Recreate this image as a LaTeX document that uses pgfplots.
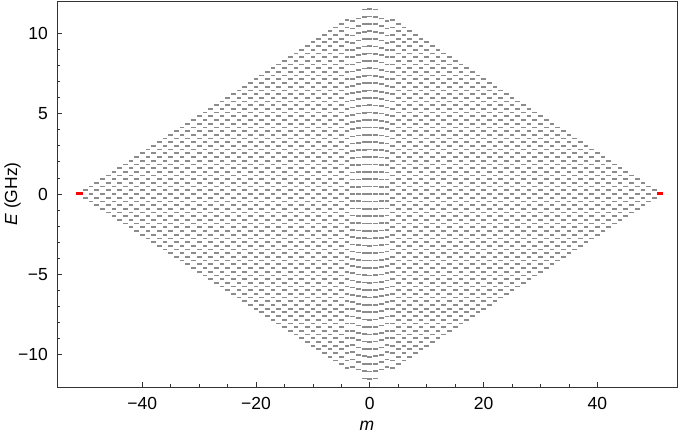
\documentclass[border=0pt]{standalone}
\usepackage{fontspec}
\setmainfont{Liberation Sans}
\usepackage{pgfplots}
\usepackage{pgfplotstable}
\pgfplotsset{compat=1.18}
% m positions of the levels away from the centre (|m|>=4)
\pgfplotstableread[header=false,row sep=\\]{-49\\-47\\-45\\-43\\-41\\-39\\-37\\-35\\-33\\-31\\-29\\-27\\-25\\-23\\-21\\-19\\-17\\-15\\-13\\-11\\-9\\-7\\-5\\5\\7\\9\\11\\13\\15\\17\\19\\21\\23\\25\\27\\29\\31\\33\\35\\37\\39\\41\\43\\45\\47\\49\\}\Modd
\pgfplotstableread[header=false,row sep=\\]{-50\\-48\\-46\\-44\\-42\\-40\\-38\\-36\\-34\\-32\\-30\\-28\\-26\\-24\\-22\\-20\\-18\\-16\\-14\\-12\\-10\\-8\\-6\\-4\\4\\6\\8\\10\\12\\14\\16\\18\\20\\22\\24\\26\\28\\30\\32\\34\\36\\38\\40\\42\\44\\46\\48\\50\\}\Meven
% energies (GHz) of the centre columns
\pgfplotstableread[header=false,row sep=\\]{-11.50\\-11.04\\-10.58\\-10.12\\-9.66\\-9.20\\-8.74\\-8.28\\-7.82\\-7.36\\-6.90\\-6.44\\-5.98\\-5.52\\-5.06\\-4.60\\-4.14\\-3.68\\-3.22\\-2.76\\-2.30\\-1.84\\-1.38\\-0.92\\-0.46\\0\\0.46\\0.92\\1.38\\1.84\\2.30\\2.76\\3.22\\3.68\\4.14\\4.60\\5.06\\5.52\\5.98\\6.44\\6.90\\7.36\\7.82\\8.28\\8.74\\9.20\\9.66\\10.12\\10.58\\11.04\\11.50\\}\Czero
\pgfplotstableread[header=false,row sep=\\]{-11.466\\-11.007\\-10.548\\-10.090\\-9.631\\-9.172\\-8.714\\-8.255\\-7.797\\-7.338\\-6.879\\-6.421\\-5.962\\-5.503\\-5.045\\-4.586\\-4.128\\-3.669\\-3.210\\-2.752\\-2.293\\-1.834\\-1.376\\-0.917\\-0.459\\0\\0.459\\0.917\\1.376\\1.834\\2.293\\2.752\\3.210\\3.669\\4.128\\4.586\\5.045\\5.503\\5.962\\6.421\\6.879\\7.338\\7.797\\8.255\\8.714\\9.172\\9.631\\10.090\\10.548\\11.007\\11.466\\}\Cone
\pgfplotstableread[header=false,row sep=\\]{-10.908\\-10.453\\-9.999\\-9.544\\-9.090\\-8.635\\-8.181\\-7.726\\-7.272\\-6.817\\-6.363\\-5.908\\-5.454\\-4.999\\-4.545\\-4.090\\-3.636\\-3.181\\-2.727\\-2.272\\-1.818\\-1.363\\-0.909\\-0.454\\0\\0.454\\0.909\\1.363\\1.818\\2.272\\2.727\\3.181\\3.636\\4.090\\4.545\\4.999\\5.454\\5.908\\6.363\\6.817\\7.272\\7.726\\8.181\\8.635\\9.090\\9.544\\9.999\\10.453\\10.908\\}\Ctwo
\pgfplotstableread[header=false,row sep=\\]{-10.742\\-10.294\\-9.847\\-9.399\\-8.952\\-8.504\\-8.056\\-7.609\\-7.161\\-6.714\\-6.266\\-5.819\\-5.371\\-4.923\\-4.476\\-4.028\\-3.581\\-3.133\\-2.685\\-2.238\\-1.790\\-1.343\\-0.895\\-0.448\\0\\0.448\\0.895\\1.343\\1.790\\2.238\\2.685\\3.133\\3.581\\4.028\\4.476\\4.923\\5.371\\5.819\\6.266\\6.714\\7.161\\7.609\\8.056\\8.504\\8.952\\9.399\\9.847\\10.294\\10.742\\}\Cthree
\pgfplotsset{lv/.style={only marks, mark=-, mark size=2.35pt, black!45, mark options={line width=1.75pt, black!45}}}
% one row of levels: energy, m-table, largest |m|
\newcommand{\lvrow}[3]{\addplot[lv,restrict x to domain=-#3.5:#3.5] table[x index=0,y index=0,y expr=#1]{#2};}
\begin{document}
\begin{tikzpicture}
\path[use as bounding box] (-57pt,-46pt) rectangle (628pt,387pt);
\begin{axis}[
  at={(0,0)}, anchor=south west, scale only axis,
  width=620pt, height=386pt,
  xmin=-55, xmax=54, ymin=-12, ymax=12,
  xtick={-40,-20,0,20,40}, xticklabels={−40,−20,0,20,40},
  ytick={-10,-5,0,5,10}, yticklabels={−10,−5,0,5,10},
  minor x tick num=3, minor y tick num=4,
  tick align=inside, tick pos=left,
  major tick length=4.5pt, minor tick length=2.7pt,
  axis line style={black!80, line width=0.8pt},
  every tick/.style={black!80, line width=0.8pt},
  tick label style={font=\fontsize{17.5}{20}\selectfont, inner sep=0pt},
  xticklabel style={anchor=north, yshift=-10.5pt},
  yticklabel style={anchor=east, xshift=-9pt},
  xlabel={\textit{m}}, ylabel={\textit{E} (GHz)},
  label style={font=\fontsize{17.5}{20}\selectfont, inner sep=0pt},
  xlabel style={at={(axis description cs:0.5,-0.1127)}, anchor=base},
  ylabel style={at={(axis description cs:-0.0645,0.5)}, anchor=base},
]
% centre columns
\addplot[lv] table[x expr=0,y index=0]{\Czero};
\addplot[lv] table[x expr=1,y index=0]{\Cone};
\addplot[lv] table[x expr=-1,y index=0]{\Cone};
\addplot[lv] table[x expr=2,y index=0]{\Ctwo};
\addplot[lv] table[x expr=-2,y index=0]{\Ctwo};
\addplot[lv] table[x expr=3,y index=0]{\Cthree};
\addplot[lv] table[x expr=-3,y index=0]{\Cthree};
% rows away from the centre
\lvrow{0}{\Modd}{49}
\lvrow{0.23}{\Meven}{50}\lvrow{-0.23}{\Meven}{50}
\lvrow{0.46}{\Modd}{49}\lvrow{-0.46}{\Modd}{49}
\lvrow{0.69}{\Meven}{48}\lvrow{-0.69}{\Meven}{48}
\lvrow{0.92}{\Modd}{47}\lvrow{-0.92}{\Modd}{47}
\lvrow{1.15}{\Meven}{46}\lvrow{-1.15}{\Meven}{46}
\lvrow{1.38}{\Modd}{45}\lvrow{-1.38}{\Modd}{45}
\lvrow{1.61}{\Meven}{44}\lvrow{-1.61}{\Meven}{44}
\lvrow{1.84}{\Modd}{43}\lvrow{-1.84}{\Modd}{43}
\lvrow{2.07}{\Meven}{42}\lvrow{-2.07}{\Meven}{42}
\lvrow{2.30}{\Modd}{41}\lvrow{-2.30}{\Modd}{41}
\lvrow{2.53}{\Meven}{40}\lvrow{-2.53}{\Meven}{40}
\lvrow{2.76}{\Modd}{39}\lvrow{-2.76}{\Modd}{39}
\lvrow{2.99}{\Meven}{38}\lvrow{-2.99}{\Meven}{38}
\lvrow{3.22}{\Modd}{37}\lvrow{-3.22}{\Modd}{37}
\lvrow{3.45}{\Meven}{36}\lvrow{-3.45}{\Meven}{36}
\lvrow{3.68}{\Modd}{35}\lvrow{-3.68}{\Modd}{35}
\lvrow{3.91}{\Meven}{34}\lvrow{-3.91}{\Meven}{34}
\lvrow{4.14}{\Modd}{33}\lvrow{-4.14}{\Modd}{33}
\lvrow{4.37}{\Meven}{32}\lvrow{-4.37}{\Meven}{32}
\lvrow{4.60}{\Modd}{31}\lvrow{-4.60}{\Modd}{31}
\lvrow{4.83}{\Meven}{30}\lvrow{-4.83}{\Meven}{30}
\lvrow{5.06}{\Modd}{29}\lvrow{-5.06}{\Modd}{29}
\lvrow{5.29}{\Meven}{28}\lvrow{-5.29}{\Meven}{28}
\lvrow{5.52}{\Modd}{27}\lvrow{-5.52}{\Modd}{27}
\lvrow{5.75}{\Meven}{26}\lvrow{-5.75}{\Meven}{26}
\lvrow{5.98}{\Modd}{25}\lvrow{-5.98}{\Modd}{25}
\lvrow{6.21}{\Meven}{24}\lvrow{-6.21}{\Meven}{24}
\lvrow{6.44}{\Modd}{23}\lvrow{-6.44}{\Modd}{23}
\lvrow{6.67}{\Meven}{22}\lvrow{-6.67}{\Meven}{22}
\lvrow{6.90}{\Modd}{21}\lvrow{-6.90}{\Modd}{21}
\lvrow{7.13}{\Meven}{20}\lvrow{-7.13}{\Meven}{20}
\lvrow{7.36}{\Modd}{19}\lvrow{-7.36}{\Modd}{19}
\lvrow{7.59}{\Meven}{18}\lvrow{-7.59}{\Meven}{18}
\lvrow{7.82}{\Modd}{17}\lvrow{-7.82}{\Modd}{17}
\lvrow{8.05}{\Meven}{16}\lvrow{-8.05}{\Meven}{16}
\lvrow{8.28}{\Modd}{15}\lvrow{-8.28}{\Modd}{15}
\lvrow{8.51}{\Meven}{14}\lvrow{-8.51}{\Meven}{14}
\lvrow{8.74}{\Modd}{13}\lvrow{-8.74}{\Modd}{13}
\lvrow{8.97}{\Meven}{12}\lvrow{-8.97}{\Meven}{12}
\lvrow{9.20}{\Modd}{11}\lvrow{-9.20}{\Modd}{11}
\lvrow{9.43}{\Meven}{10}\lvrow{-9.43}{\Meven}{10}
\lvrow{9.66}{\Modd}{9}\lvrow{-9.66}{\Modd}{9}
\lvrow{9.89}{\Meven}{8}\lvrow{-9.89}{\Meven}{8}
\lvrow{10.12}{\Modd}{7}\lvrow{-10.12}{\Modd}{7}
\lvrow{10.35}{\Meven}{6}\lvrow{-10.35}{\Meven}{6}
\lvrow{10.58}{\Modd}{5}\lvrow{-10.58}{\Modd}{5}
\lvrow{10.81}{\Meven}{4}\lvrow{-10.81}{\Meven}{4}
% end states
\addplot[only marks, mark=-, mark size=3.3pt, red, mark options={line width=3pt, red}] coordinates {(-51,0) (51,0)};
\end{axis}
\end{tikzpicture}
\end{document}
